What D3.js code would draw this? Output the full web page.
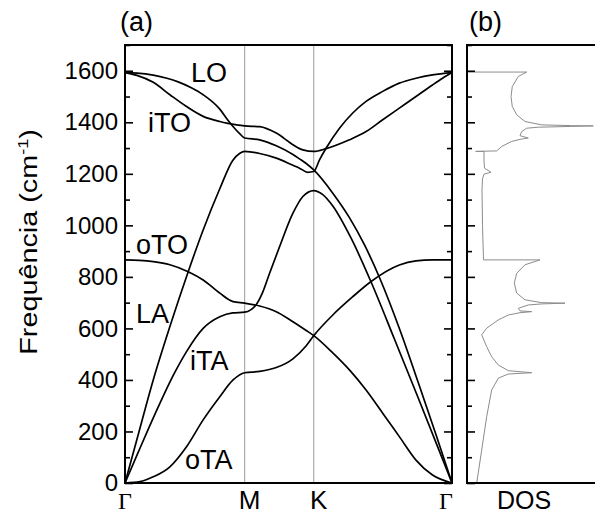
<!DOCTYPE html>
<html>
<head>
<meta charset="utf-8">
<script src="https://cdn.jsdelivr.net/npm/d3@7"></script>
<style>
  html, body { margin: 0; padding: 0; background: #fff; }
  svg { display: block; }
</style>
</head>
<body>
<svg id="chart" width="595" height="515"></svg>
<script>
// ---------------- DATA ----------------
// high-symmetry points along the path (k in units of |ΓM|)
const symLabels = ["Γ", "M", "K", "Γ"];
const symK = [0, 1, 1.577, 2.732];

// frequency axis ticks (cm^-1)
const yMajor = [0, 200, 400, 600, 800, 1000, 1200, 1400, 1600];
const yMinor = [100, 300, 500, 700, 900, 1100, 1300, 1500, 1700];

// phonon branches: [k, frequency (cm^-1)]
const branchTO = [[0,1593],[0.1,1582],[0.236,1555],[0.375,1507],[0.514,1461],[0.653,1423],[0.792,1403],[0.86,1396],[1.0,1386],
  [1.125,1383],[1.264,1358],[1.403,1313],[1.486,1293],[1.577,1287],
  [1.681,1298],[1.875,1332],[2.014,1364],[2.153,1410],[2.292,1455],[2.431,1500],[2.569,1545],[2.653,1571],[2.732,1593]];
const branchLO = [[0,1593],[0.1,1591],[0.236,1583],[0.35,1571],[0.444,1557],[0.55,1535],[0.653,1507],[0.792,1451],[0.86,1408],[0.917,1376],[0.96,1355],[1.0,1339],
  [1.125,1332],[1.264,1309],[1.403,1275],[1.458,1258],[1.514,1240],[1.577,1215],
  [1.736,1125],[1.875,1030],[2.0,925],[2.133,790],[2.3,590],[2.45,390],[2.6,185],[2.732,0]];
const branchLA = [[0,0],[0.1,170],[0.236,400],[0.375,607],[0.528,820],[0.653,982],[0.79,1140],[0.9,1252],[0.96,1280],[1.0,1287],
  [1.06,1284],[1.125,1279],[1.264,1261],[1.403,1233],[1.458,1222],[1.528,1206],[1.577,1209],
  [1.625,1254],[1.681,1300],[1.792,1377],[1.903,1436],[2.014,1481],[2.153,1520],[2.292,1552],[2.431,1571],[2.569,1584],[2.732,1593]];
const branchTA = [[0,0],[0.1,108],[0.2,215],[0.3,318],[0.417,430],[0.514,510],[0.653,600],[0.792,645],[0.9,660],[1.0,663],
  [1.05,672],[1.1,695],[1.15,740],[1.208,814],[1.292,918],[1.403,1047],[1.486,1112],[1.577,1135],
  [1.65,1120],[1.736,1075],[1.889,950],[2.056,780],[2.25,560],[2.45,330],[2.6,155],[2.732,0]];
const branchZO = [[0,866],[0.12,864],[0.236,859],[0.375,847],[0.528,820],[0.653,788],[0.792,737],[0.903,704],[1.0,698],
  [1.125,687],[1.264,665],[1.403,626],[1.514,592],[1.577,572],
  [1.736,505],[1.875,439],[2.014,361],[2.153,271],[2.292,180],[2.431,89],[2.569,31],[2.732,0]];
const branchZA = [[0,0],[0.125,5],[0.236,24],[0.375,63],[0.514,141],[0.653,245],[0.792,335],[0.903,400],[1.0,428],
  [1.125,433],[1.264,448],[1.403,482],[1.514,533],[1.577,572],
  [1.736,652],[1.903,723],[2.056,782],[2.292,846],[2.431,862],[2.569,866],[2.732,866]];
const branches = [branchTO, branchLO, branchLA, branchTA, branchZO, branchZA];

// branch labels
const branchNames = ["LO", "iTO", "oTO", "LA", "iTA", "oTA"];

// phonon density of states: [DOS (arb. units), frequency (cm^-1)]
const dosCurve = [[1,1595],[59.7,1595],[51.3,1578],[45.3,1539],[44,1500],[45.3,1461],[49.7,1429],[58,1403],[74.7,1390],[104.7,1387],[126.3,1386],
  [104.7,1384],[71.3,1381],[59.7,1377],[54.7,1364],[53,1348],[61.3,1339],[54.7,1335],[44.7,1326],[34.7,1306],[29.7,1289],
  [8.7,1287],[17,1287],[17,1250],[17.5,1222],[24,1206],[17,1199],[15.5,1180],[15,1138],[15.5,1000],[16.5,866],
  [73,866],[58,847],[49.7,814],[47.3,776],[49.7,737],[58,711],[74.7,700],[98,698],[74.7,695],[61.3,691],[51.3,678],
  [53,668],[64.7,665],[53,661],[41.3,652],[31.3,633],[19.7,601],[14.7,575],[19.7,529],[24.7,490],[31.3,458],[41.3,436],
  [64.7,428],[41.3,423],[31.3,407],[24.7,361],[19.7,258],[14.7,128],[9.7,0]];

// ---------------- LAYOUT ----------------
const svg = d3.select("#chart");
svg.append("rect").attr("width", 595).attr("height", 515).attr("fill", "#fff");

const A = {left: 125, right: 452, top: 45, bottom: 483};
const B = {left: 467, right: 600};
const sans = "'Liberation Sans', Arial, sans-serif";
const serif = "'Liberation Serif', 'Times New Roman', serif";

const x = d3.scaleLinear().domain([0, 2.732]).range([A.left, A.right]);
const y = d3.scaleLinear().domain([0, 1700]).range([A.bottom, A.top]);
const xd = d3.scaleLinear().domain([0, 130]).range([B.left, B.left + 130]);

// vertical lines at M and K
svg.append("g").selectAll("line").data(symK.slice(1, 3)).join("line")
  .attr("x1", d => x(d)).attr("x2", d => x(d))
  .attr("y1", A.top).attr("y2", A.bottom)
  .attr("stroke", "#9a9a9a").attr("stroke-width", 1);

// dispersion curves
const line = d3.line().x(d => x(d[0])).y(d => y(d[1])).curve(d3.curveMonotoneX);
svg.append("g").selectAll("path").data(branches).join("path")
  .attr("d", line).attr("fill", "none")
  .attr("stroke", "#000").attr("stroke-width", 1.7);

// DOS
const dosLine = d3.line().x(d => xd(d[0])).y(d => y(d[1]));
svg.append("path").datum(dosCurve).attr("d", dosLine)
  .attr("fill", "none").attr("stroke", "#8c8c8c").attr("stroke-width", 1);

// axes / ticks
function styleAxis(g) {
  g.select(".domain").remove();
  g.selectAll(".tick line").attr("stroke", "#000").attr("stroke-width", 1.6);
}
svg.append("g").attr("transform", `translate(${A.left},0)`)
  .call(d3.axisLeft(y).tickValues(yMajor).tickSize(-8).tickPadding(7).tickFormat(d3.format("d")))
  .call(styleAxis)
  .call(g => g.selectAll("text").attr("font-family", sans).attr("font-size", 24).attr("fill", "#000"));
svg.append("g").attr("transform", `translate(${A.left},0)`)
  .call(d3.axisLeft(y).tickValues(yMinor).tickSize(-5).tickFormat("")).call(styleAxis);
svg.append("g").attr("transform", `translate(${A.right},0)`)
  .call(d3.axisRight(y).tickValues(yMajor).tickSize(-8).tickFormat("")).call(styleAxis);
svg.append("g").attr("transform", `translate(${A.right},0)`)
  .call(d3.axisRight(y).tickValues(yMinor).tickSize(-5).tickFormat("")).call(styleAxis);
svg.append("g").attr("transform", `translate(${B.left},0)`)
  .call(d3.axisLeft(y).tickValues(yMajor).tickSize(-8).tickFormat("")).call(styleAxis);
svg.append("g").attr("transform", `translate(${B.left},0)`)
  .call(d3.axisLeft(y).tickValues(yMinor).tickSize(-5).tickFormat("")).call(styleAxis);

// frames
svg.append("rect").attr("x", A.left).attr("y", A.top)
  .attr("width", A.right - A.left).attr("height", A.bottom - A.top)
  .attr("fill", "none").attr("stroke", "#000").attr("stroke-width", 2);
svg.append("rect").attr("x", B.left).attr("y", A.top)
  .attr("width", B.right - B.left).attr("height", A.bottom - A.top)
  .attr("fill", "none").attr("stroke", "#000").attr("stroke-width", 2);

// high-symmetry labels
const symDx = [0, 5, 5, -6];
svg.append("g").selectAll("text").data(symLabels).join("text")
  .attr("x", (d, i) => x(symK[i]) + symDx[i]).attr("y", 509)
  .attr("text-anchor", "middle")
  .attr("font-family", (d) => d === "Γ" ? serif : sans)
  .attr("font-size", (d) => d === "Γ" ? 24 : 26)
  .text(d => d);
svg.append("text").attr("x", (B.left + 595) / 2 - 7).attr("y", 509)
  .attr("text-anchor", "middle").attr("font-family", sans).attr("font-size", 25).text("DOS");

// panel labels
svg.append("text").attr("x", 120).attr("y", 31).attr("font-family", sans).attr("font-size", 27).text("(a)");
svg.append("text").attr("x", 469).attr("y", 31).attr("font-family", sans).attr("font-size", 27).text("(b)");

// branch labels (pixel layout)
const namePos = [[191, 81.5], [148, 131.5], [136, 254], [136, 323], [190, 370], [185, 469]];
svg.append("g").selectAll("text").data(branchNames).join("text")
  .attr("x", (d, i) => namePos[i][0]).attr("y", (d, i) => namePos[i][1])
  .attr("font-family", sans).attr("font-size", 27).text(d => d);

// y-axis title
const title = svg.append("text")
  .attr("transform", "translate(37,242) rotate(-90) scale(1.2,1)")
  .attr("text-anchor", "middle").attr("font-family", sans).attr("font-size", 24);
title.append("tspan").text("Frequência (cm");
title.append("tspan").attr("font-size", 15).attr("dy", -9).text("-1");
title.append("tspan").attr("dy", 9).text(")");
</script>
</body>
</html>
